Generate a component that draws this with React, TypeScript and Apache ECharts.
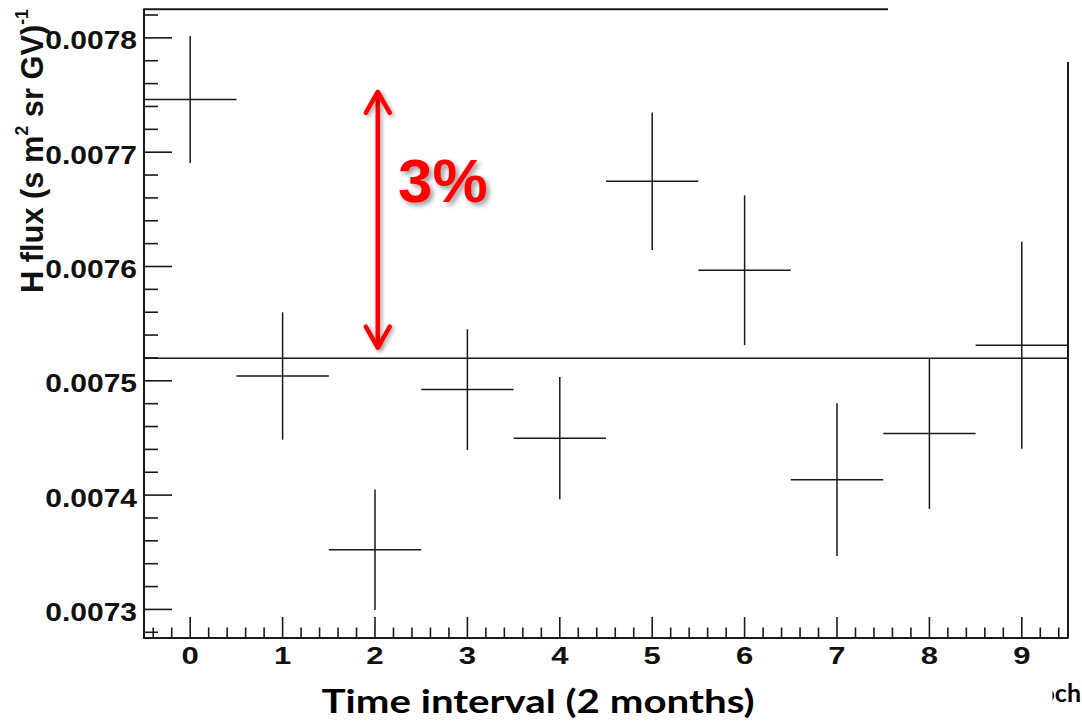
import React, { useEffect, useRef } from "react";
import * as echarts from "echarts";

// ---- data ----
const timeBins = [0, 1, 2, 3, 4, 5, 6, 7, 8, 9];
const hFlux = [0.0077461, 0.0075042, 0.0073523, 0.0074923, 0.0074498, 0.0076746, 0.0075967, 0.0074135, 0.0074538, 0.0075311];
const hFluxError = [0.0000555, 0.0000557, 0.0000527, 0.0000528, 0.0000535, 0.0000601, 0.0000655, 0.0000668, 0.0000659, 0.0000906];
const binHalfWidth = 0.5;
const meanFlux = 0.0075197;
const yMajorTicks = [0.0073, 0.0074, 0.0075, 0.0076, 0.0077, 0.0078];
const yTickLabels = ["0.0073", "0.0074", "0.0075", "0.0076", "0.0077", "0.0078"];
const xMajorTicks = [0, 1, 2, 3, 4, 5, 6, 7, 8, 9];
const xTickLabels = ["0", "1", "2", "3", "4", "5", "6", "7", "8", "9"];
const arrowX = [2.03];
const arrowTop = [0.0077528];
const arrowBottom = [0.007529];
const annotationText = "3%";
const xTitle = "Time interval (2 months)";

const X_MIN = -0.5;
const X_MAX = 9.5;
const Y_MIN = 0.007275;
const Y_MAX = 0.007825;

function subTicks(majors: number[], step: number, n: number, lo: number, hi: number) {
  const out: number[] = [];
  const ext = [majors[0] - step, ...majors, majors[majors.length - 1] + step];
  for (let i = 0; i < ext.length - 1; i++) {
    for (let k = 1; k < n; k++) {
      const v = ext[i] + (step * k) / n;
      if (v > lo && v < hi) out.push(+v.toFixed(8));
    }
  }
  return out;
}

const yTicks = [
  ...yMajorTicks.map((v, i) => ({ v, major: true, label: yTickLabels[i] })),
  ...subTicks(yMajorTicks, 0.0001, 5, Y_MIN, Y_MAX).map((v) => ({ v, major: false, label: "" })),
];
const xTicks = [
  ...xMajorTicks.map((v, i) => ({ v, major: true, label: xTickLabels[i] })),
  ...subTicks(xMajorTicks, 1, 5, X_MIN, X_MAX).map((v) => ({ v, major: false, label: "" })),
];

const INK = "#1a1a1a";
const TICK_FONT = "Liberation Sans";

export default function App() {
  const ref = useRef<HTMLDivElement>(null);
  useEffect(() => {
    if (!ref.current) return;
    const chart = echarts.init(ref.current, undefined, { renderer: "svg" });
    const option: any = {
      animation: false,
      backgroundColor: "#ffffff",
      grid: { left: 144, right: 14, top: 9.3, bottom: 84 },
      xAxis: {
        type: "value",
        min: X_MIN,
        max: X_MAX,
        axisLine: { show: true, onZero: false, lineStyle: { color: INK, width: 2 } },
        axisTick: { show: false },
        axisLabel: { show: false },
        splitLine: { show: false },
      },
      yAxis: {
        type: "value",
        min: Y_MIN,
        max: Y_MAX,
        axisLine: { show: true, onZero: false, lineStyle: { color: INK, width: 2 } },
        axisTick: { show: false },
        axisLabel: { show: false },
        splitLine: { show: false },
      },
      series: [
        {
          type: "line",
          data: [
            [X_MIN, meanFlux],
            [X_MAX, meanFlux],
          ],
          symbol: "none",
          lineStyle: { color: INK, width: 1.5 },
          z: 3,
        },
        {
          type: "custom",
          data: timeBins.map((b, i) => [b, hFlux[i], hFluxError[i]]),
          encode: { x: 0, y: 1 },
          renderItem: (params: any, api: any) => {
            const x = api.value(0);
            const y = api.value(1);
            const e = api.value(2);
            const l = api.coord([x - binHalfWidth, y]);
            const r = api.coord([x + binHalfWidth, y]);
            const t = api.coord([x, y + e]);
            const b = api.coord([x, y - e]);
            const st = { stroke: INK, lineWidth: 1.5 };
            return {
              type: "group",
              children: [
                { type: "line", shape: { x1: l[0], y1: l[1], x2: r[0], y2: r[1] }, style: st },
                { type: "line", shape: { x1: t[0], y1: t[1], x2: b[0], y2: b[1] }, style: st },
              ],
            };
          },
          z: 4,
        },
        {
          // y ticks + labels
          type: "custom",
          data: yTicks.map((t) => [X_MIN, t.v]),
          encode: { x: 0, y: 1 },
          clip: false,
          renderItem: (params: any, api: any) => {
            const t = yTicks[params.dataIndex];
            const p = api.coord([X_MIN, t.v]);
            const len = t.major ? 28 : 14;
            const children: any[] = [
              { type: "line", shape: { x1: p[0], y1: p[1], x2: p[0] + len, y2: p[1] }, style: { stroke: INK, lineWidth: 1.6 } },
            ];
            if (t.major) {
              children.push({
                type: "text",
                x: p[0] - 7,
                y: p[1] + 3,
                scaleX: 1.2,
                style: {
                  text: t.label,
                  x: 0,
                  y: 0,
                  align: "right",
                  verticalAlign: "middle",
                  fontFamily: TICK_FONT,
                  fontWeight: "bold",
                  fontSize: 25,
                  fill: "#111",
                },
              });
            }
            return { type: "group", children };
          },
          z: 5,
        },
        {
          // x ticks + labels
          type: "custom",
          data: xTicks.map((t) => [t.v, Y_MIN]),
          encode: { x: 0, y: 1 },
          clip: false,
          renderItem: (params: any, api: any) => {
            const t = xTicks[params.dataIndex];
            const p = api.coord([t.v, Y_MIN]);
            const len = t.major ? 21 : 10.5;
            const children: any[] = [
              { type: "line", shape: { x1: p[0], y1: p[1], x2: p[0], y2: p[1] - len }, style: { stroke: INK, lineWidth: 1.6 } },
            ];
            if (t.major) {
              children.push({
                type: "text",
                x: p[0],
                y: p[1] + 18,
                scaleX: 1.35,
                style: {
                  text: t.label,
                  x: 0,
                  y: 0,
                  align: "center",
                  verticalAlign: "middle",
                  fontFamily: TICK_FONT,
                  fontWeight: "bold",
                  fontSize: 23,
                  fill: "#111",
                },
              });
            }
            return { type: "group", children };
          },
          z: 5,
        },
        {
          // red 3% double arrow
          type: "custom",
          data: arrowX.map((x, i) => [x, arrowTop[i], arrowBottom[i]]),
          encode: { x: 0, y: 1 },
          clip: false,
          renderItem: (params: any, api: any) => {
            const x = api.value(0);
            const top = api.coord([x, api.value(1)]);
            const bot = api.coord([x, api.value(2)]);
            const shadow = {
              shadowBlur: 4,
              shadowColor: "rgba(0,0,0,0.35)",
              shadowOffsetX: 2,
              shadowOffsetY: 2,
            };
            const st = {
              stroke: "#ff0000",
              lineWidth: 4.5,
              lineCap: "round",
              lineJoin: "round",
              fill: "none",
              ...shadow,
            };
            const hw = 12;
            const hh = 21;
            return {
              type: "group",
              children: [
                {
                  type: "rect",
                  shape: { x: top[0] - 2.25, y: top[1] + 1, width: 4.5, height: bot[1] - top[1] - 2 },
                  style: { fill: "#ff0000", ...shadow },
                },
                {
                  type: "polyline",
                  shape: { points: [[top[0] - hw, top[1] + hh], [top[0], top[1]], [top[0] + hw, top[1] + hh]] },
                  style: st,
                },
                {
                  type: "polyline",
                  shape: { points: [[bot[0] - hw, bot[1] - hh], [bot[0], bot[1]], [bot[0] + hw, bot[1] - hh]] },
                  style: st,
                },
              ],
            };
          },
          z: 6,
        },
      ],
      graphic: [
        // remaining pieces of the frame
        { type: "line", shape: { x1: 144, y1: 9.3, x2: 888, y2: 9.3 }, style: { stroke: INK, lineWidth: 2 }, z: 10 },
        { type: "line", shape: { x1: 1068, y1: 62, x2: 1068, y2: 638 }, style: { stroke: INK, lineWidth: 2 }, z: 10 },
        {
          type: "text",
          x: 398,
          y: 180,
          z: 20,
          style: {
            text: annotationText,
            align: "left",
            verticalAlign: "middle",
            fontFamily: "Liberation Sans",
            fontWeight: "bold",
            fontSize: 62,
            fill: "#ff0000",
            textShadowColor: "rgba(0,0,0,0.4)",
            textShadowBlur: 5,
            textShadowOffsetX: 3,
            textShadowOffsetY: 3,
          },
        },
        {
          type: "group",
          x: 0,
          y: 293,
          rotation: Math.PI / 2,
          scaleX: 1.1,
          scaleY: 1.15,
          z: 20,
          children: [
            {
              type: "text",
              x: 0,
              y: 28,
              style: {
                text: "{n|H flux (s m}{s|2}{n| sr GV)}{s|-1}",
                align: "left",
                verticalAlign: "middle",
                rich: {
                  n: { fontFamily: TICK_FONT, fontWeight: "bold", fontSize: 28, lineHeight: 34, fill: "#111", verticalAlign: "middle" },
                  s: { fontFamily: TICK_FONT, fontWeight: "bold", fontSize: 16, lineHeight: 16, fill: "#111", verticalAlign: "top" },
                },
              },
            },
          ],
        },
        {
          type: "text",
          x: 538,
          y: 700,
          scaleX: 1.22,
          z: 20,
          style: { text: xTitle, x: 0, y: 0, align: "center", verticalAlign: "middle", fontFamily: "Lato", fontWeight: "bold", fontSize: 33, fill: "#000" },
        },
        {
          type: "text",
          x: 1081,
          y: 692,
          z: 20,
          style: { text: "och", x: 0, y: 0, align: "right", verticalAlign: "middle", fontFamily: "Lato", fontWeight: "bold", fontSize: 25, fill: "#000" },
        },
        { type: "rect", shape: { x: 990, y: 675, width: 62.5, height: 35 }, style: { fill: "#ffffff" }, z: 21 },
      ],
    };
    chart.setOption(option);
    return () => chart.dispose();
  }, []);
  return (
    <div
      ref={ref}
      style={{ position: "fixed", left: 0, top: 0, width: 1082, height: 722, background: "#fff" }}
    />
  );
}
